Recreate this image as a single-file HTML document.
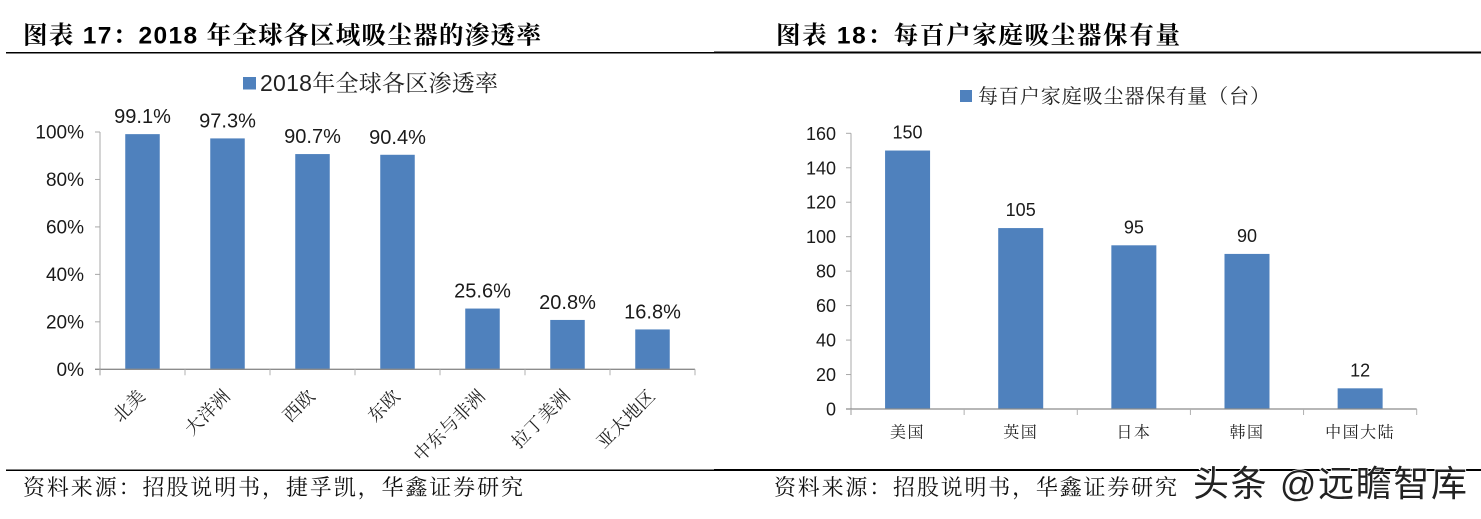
<!DOCTYPE html>
<html lang="zh-CN">
<head>
<meta charset="utf-8">
<title>吸尘器渗透率与保有量</title>
<style>
html,body{margin:0;padding:0;background:#fff;}
body{width:1481px;height:519px;overflow:hidden;}
svg{display:block;}
text{fill:#111;}
.latin{font-family:"Liberation Sans",sans-serif;fill:#1a1a1a;}
.cjk{font-family:"Liberation Sans","Noto Serif CJK SC",serif;fill:#222;}
.head{font-family:"Liberation Sans","Noto Serif CJK SC",serif;font-size:24.5px;font-weight:700;fill:#000;}
.src{font-family:"Liberation Serif","Noto Serif CJK SC",serif;font-size:22px;fill:#111;}
</style>
</head>
<body>
<svg id="root" xmlns="http://www.w3.org/2000/svg" width="1481" height="519" viewBox="0 0 1481 519">
  <rect x="0" y="0" width="1481" height="519" fill="#fff"/>
  <text class="head" x="23" y="43.5" textLength="518" lengthAdjust="spacing">图表 17：2018 年全球各区域吸尘器的渗透率</text>
  <text class="head" x="776" y="43.5" textLength="404" lengthAdjust="spacing">图表 18：每百户家庭吸尘器保有量</text>
  <rect x="6" y="52" width="708" height="1.5" fill="#000"/>
  <rect x="714" y="51.5" width="767" height="2" fill="#000"/>
  <rect x="6" y="469.5" width="708" height="1.5" fill="#000"/>
  <rect x="714" y="469" width="767" height="2" fill="#000"/>
  <text class="src" x="23" y="495" textLength="500" lengthAdjust="spacing">资料来源：招股说明书，捷孚凯，华鑫证券研究</text>
  <text class="src" x="774" y="495" textLength="403" lengthAdjust="spacing">资料来源：招股说明书，华鑫证券研究</text>

  <rect x="243" y="77" width="13" height="12.5" fill="#4f81bd"/>
  <text class="cjk" x="260" y="91" font-size="23" textLength="238" lengthAdjust="spacing">2018年全球各区渗透率</text>
  <rect x="960" y="90" width="12" height="12" fill="#4f81bd"/>
  <text class="cjk" x="978" y="103" font-size="20" textLength="292" lengthAdjust="spacing">每百户家庭吸尘器保有量（台）</text>

  <g id="chart-left"></g>
  <g id="chart-right"></g>

  <text x="1193" y="496" font-family="'Liberation Sans','Noto Sans CJK SC',sans-serif" font-size="36" textLength="274" lengthAdjust="spacing" style="fill:#222;stroke:#fff;stroke-width:1.6px;paint-order:stroke;">头条 @远瞻智库</text>
</svg>
<script>
var leftCategories = ['北美', '大洋洲', '西欧', '东欧', '中东与非洲', '拉丁美洲', '亚太地区'];
var leftValues = [99.1, 97.3, 90.7, 90.4, 25.6, 20.8, 16.8];
var leftLabels = ['99.1%', '97.3%', '90.7%', '90.4%', '25.6%', '20.8%', '16.8%'];
var leftTicks = [0, 20, 40, 60, 80, 100];
var leftTickLabels = ['0%', '20%', '40%', '60%', '80%', '100%'];

var rightCategories = ['美国', '英国', '日本', '韩国', '中国大陆'];
var rightValues = [150, 105, 95, 90, 12];
var rightTicks = [0, 20, 40, 60, 80, 100, 120, 140, 160];

var NS = 'http://www.w3.org/2000/svg';
function make(parent, tag, attrs, content) {
  var el = document.createElementNS(NS, tag);
  for (var k in attrs) { el.setAttribute(k, attrs[k]); }
  if (content !== undefined) { el.textContent = content; }
  parent.appendChild(el);
  return el;
}

function drawChart(group, cfg) {
  function yScale(v) { return cfg.y0 - (v / cfg.max) * (cfg.y0 - cfg.yTop); }
  function band() { return (cfg.x1 - cfg.x0) / cfg.categories.length; }
  function xCenter(i) { return cfg.x0 + band() * (i + 0.5); }

  var yAxis = make(group, 'line', {x1: cfg.x0, x2: cfg.x0, y1: yScale(cfg.max), y2: cfg.y0 + 6, stroke: '#bdbdbd', 'stroke-width': 1.3});
  
  

  cfg.ticks.forEach(function (t, i) {
    var mark = make(group, 'line', {x1: cfg.x0 - 5, x2: cfg.x0, y1: yScale(t), y2: yScale(t), stroke: '#a8a8a8', 'stroke-width': 1});
    
    
    var label = make(group, 'text', {'class': 'latin', 'font-size': cfg.tickSize, x: cfg.tickX, y: yScale(t) + 6.5, 'text-anchor': 'end'}, cfg.tickLabels[i]);
    
    
  });

  cfg.values.forEach(function (v, i) {
    var bar = make(group, 'rect', {x: xCenter(i) - cfg.barW / 2, y: yScale(v), width: cfg.barW, height: cfg.y0 - yScale(v), fill: '#4f81bd'});
    
    
    var val = make(group, 'text', {'class': 'latin', 'font-size': cfg.labelSize, x: xCenter(i), y: yScale(v) - cfg.labelGap, 'text-anchor': 'middle'}, cfg.labels[i]);
    
    
  });

  var xAxis = make(group, 'line', {x1: cfg.x0 - 5, x2: cfg.x1, y1: cfg.y0, y2: cfg.y0, stroke: '#8c8c8c', 'stroke-width': 1.3});
  
  

  for (var i = 0; i <= cfg.categories.length; i++) {
    var px = cfg.x0 + band() * i;
    var xMark = make(group, 'line', {x1: px, x2: px, y1: cfg.y0, y2: cfg.y0 + 6, stroke: '#b0b0b0', 'stroke-width': 1});
    
    
  }

  cfg.categories.forEach(function (c, i) {
    var attrs = {'class': 'cjk', 'font-size': cfg.catSize, 'letter-spacing': cfg.catSpacing};
    if (cfg.rotate) {
      attrs['text-anchor'] = 'end';
      attrs.transform = 'translate(' + (xCenter(i) + 4) + ',' + cfg.catY + ') rotate(-45)';
      attrs.x = 0;
      attrs.y = 0;
    } else {
      attrs['text-anchor'] = 'middle';
      attrs.x = xCenter(i);
      attrs.y = cfg.catY;
    }
    var cat = make(group, 'text', attrs, c);
    
    
  });
}

drawChart(document.getElementById('chart-left'), {
  categories: leftCategories, values: leftValues, labels: leftLabels,
  ticks: leftTicks, tickLabels: leftTickLabels, max: 100,
  x0: 100, x1: 695, y0: 369.3, yTop: 132, barW: 34.5, tickX: 84,
  tickSize: 19, labelSize: 20, labelGap: 11,
  catSize: 18, catSpacing: 0.5, catY: 397, rotate: true
});
drawChart(document.getElementById('chart-right'), {
  categories: rightCategories, values: rightValues, labels: rightValues.map(String),
  ticks: rightTicks, tickLabels: rightTicks.map(String), max: 160,
  x0: 851, x1: 1416.7, y0: 409, yTop: 133.3, barW: 45, tickX: 836,
  tickSize: 18, labelSize: 18, labelGap: 12,
  catSize: 16, catSpacing: 1.5, catY: 437.5, rotate: false
});
</script>
</body>
</html>
